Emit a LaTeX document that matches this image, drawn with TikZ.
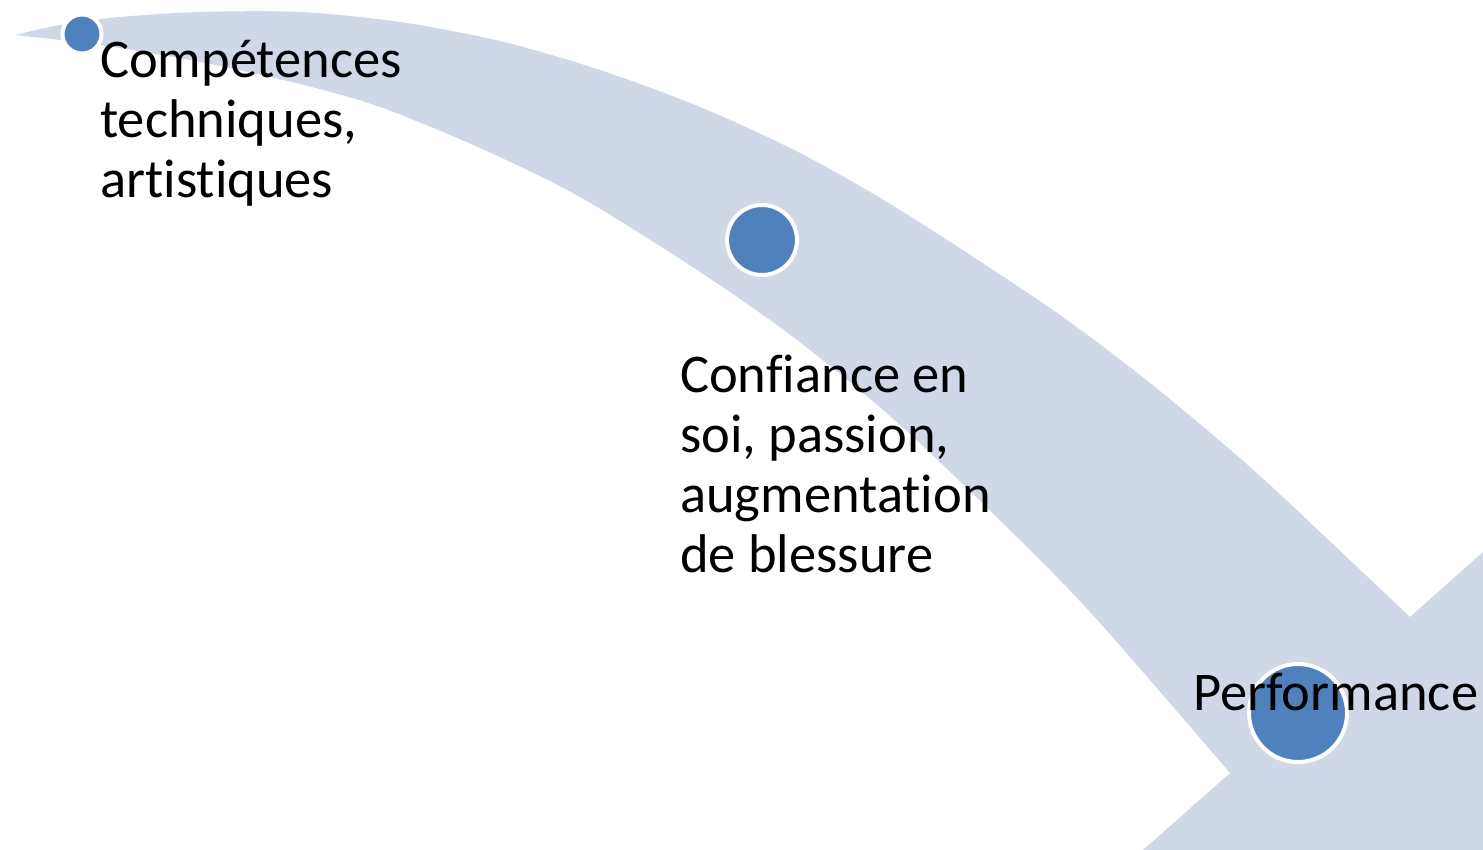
\documentclass[tikz,border=0pt]{standalone}
\usepackage{fontspec}
\setmainfont{Carlito}[Ligatures={NoCommon}]
\definecolor{bandcol}{HTML}{D0D8E8}
\definecolor{dotcol}{HTML}{4F81BD}
\tikzset{
  dotnode/.style={circle, fill=dotcol, draw=white, line width=4pt, inner sep=0pt},
  lbl/.style={anchor=base west, inner sep=0pt, align=left, font=\fontsize{54.5}{60}\selectfont, text=black}
}
\begin{document}
\begin{tikzpicture}[x=1pt,y=-1pt]
\useasboundingbox (0,0) rectangle (1483,850);
\clip (0,0) rectangle (1483,850);
\fill[bandcol] plot[smooth, tension=0.5] coordinates {(15,35) (60,25) (120,17) (200,12) (300,12) (400,22) (500,41) (600,70) (700,107) (800,153) (900,210) (1050,308) (1150,383) (1250,467) (1337,548) (1410,617)}
  -- (1530,510) -- (1600,950) -- (1090,897) -- (1230,773)
  -- plot[smooth, tension=0.5] coordinates {(1230,773) (1100,623) (1020,540) (900,425) (797,340) (700,272) (580,197) (480,148) (380,107) (300,84) (200,62) (100,45) (15,35)} -- cycle;
\node[dotnode, minimum size=39pt] (c1) at (82,34) {};
\node[dotnode, minimum size=70pt] (c2) at (762,240) {};
\node[dotnode, minimum size=98pt] (c3) at (1298,713) {};
\node[lbl] (t1) at (100,198) {Compétences\\techniques,\\artistiques};
\node[lbl] (t2) at (680,572) {Confiance en\\soi, passion,\\augmentation\\de blessure};
\node[lbl] (t3) at (1193,710) {Performance};
\end{tikzpicture}
\end{document}
